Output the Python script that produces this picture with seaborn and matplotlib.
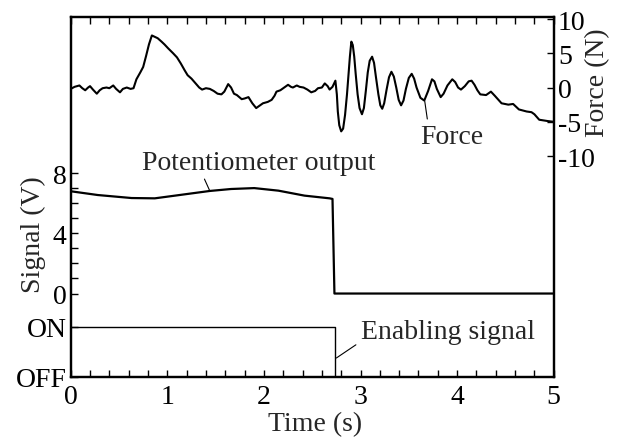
import matplotlib
matplotlib.use("Agg")
import matplotlib.pyplot as plt
import seaborn as sns
import pandas as pd
from matplotlib.ticker import MultipleLocator, FixedLocator

sns.set_theme(style="white")
plt.rcParams["font.family"] = ["Liberation Serif", "DejaVu Serif"]

# ---------------- data ----------------
force_time = [0.00, 0.04, 0.09, 0.12, 0.15, 0.18, 0.20, 0.23, 0.27, 0.30,
              0.33, 0.37, 0.40, 0.44, 0.47, 0.51, 0.54, 0.58, 0.62, 0.65,
              0.68, 0.72, 0.75, 0.78, 0.81, 0.84, 0.87, 0.90, 0.94, 0.97,
              1.01, 1.06, 1.10, 1.14, 1.18, 1.21, 1.25, 1.30, 1.33, 1.36,
              1.40, 1.44, 1.48, 1.52, 1.56, 1.59, 1.63, 1.66, 1.69, 1.72,
              1.77, 1.80, 1.84, 1.88, 1.92, 1.96, 1.99, 2.04, 2.08, 2.11,
              2.13, 2.17, 2.20, 2.25, 2.28, 2.30, 2.34, 2.37, 2.41, 2.45,
              2.49, 2.53, 2.56, 2.60, 2.63, 2.66, 2.68, 2.71, 2.74, 2.755,
              2.765, 2.78, 2.80, 2.82, 2.84, 2.86, 2.875, 2.89, 2.905, 2.92,
              2.935, 2.95, 2.97, 2.99, 3.015, 3.035, 3.055, 3.075, 3.095, 3.12,
              3.14, 3.16, 3.185, 3.205, 3.225, 3.245, 3.27, 3.295, 3.32, 3.345,
              3.37, 3.395, 3.42, 3.445, 3.47, 3.50, 3.53, 3.555, 3.58, 3.62,
              3.66, 3.70, 3.74, 3.765, 3.79, 3.83, 3.86, 3.90, 3.95, 3.98,
              4.01, 4.04, 4.08, 4.12, 4.15, 4.18, 4.21, 4.24, 4.30, 4.35,
              4.39, 4.46, 4.53, 4.58, 4.64, 4.72, 4.77, 4.80, 4.85, 4.94,
              5.00]
force_vals = [-0.2, 0.1, 0.3, -0.1, -0.4, 0.0, 0.2, -0.3, -0.9, -0.4,
              -0.1, 0.0, -0.1, 0.3, -0.2, -0.7, -0.2, 0.0, -0.2, -0.1,
              1.2, 2.2, 3.0, 4.6, 6.3, 7.6, 7.4, 7.2, 6.7, 6.3,
              5.7, 5.0, 4.4, 3.5, 2.5, 1.8, 1.3, 0.5, 0.0, -0.3,
              -0.1, -0.2, -0.5, -0.9, -1.0, -0.6, 0.5, 0.0, -0.9, -1.1,
              -1.7, -1.6, -1.4, -2.3, -3.0, -2.6, -2.3, -2.1, -1.8, -1.2,
              -0.6, -0.4, -0.1, 0.4, 0.1, 0.0, 0.3, 0.1, 0.0, -0.3,
              -0.7, -0.5, -0.1, 0.0, 0.6, 0.2, -0.3, 0.1, 1.0, -1.0,
              -3.5, -5.5, -6.4, -6.0, -4.0, -1.0, 1.8, 4.5, 6.7, 6.2,
              4.5, 2.0, -1.0, -3.0, -3.9, -3.0, -0.5, 2.2, 3.9, 4.5,
              3.6, 1.5, -1.0, -2.6, -3.1, -2.3, -0.3, 1.5, 2.3, 1.6,
              0.0, -1.8, -2.6, -1.9, -0.2, 1.4, 2.0, 1.3, 0.0, -1.5,
              -1.9, -0.5, 1.2, 0.9, -0.2, -1.4, -0.9, 0.3, 1.2, 0.8,
              0.0, -0.3, 0.2, 0.9, 1.0, 0.4, -0.4, -1.0, -1.1, -0.6,
              -1.2, -2.3, -2.5, -2.4, -3.2, -3.5, -3.6, -3.9, -4.7, -4.9,
              -5.0]

pot_time = [0.00, 0.28, 0.63, 0.87, 1.08, 1.44, 1.66, 1.90, 2.15, 2.42,
            2.68, 2.71, 2.73, 5.00]
pot_vals = [6.79, 6.54, 6.34, 6.32, 6.50, 6.81, 6.94, 7.00, 6.83, 6.50,
            6.32, 6.28, 0.0, 0.0]

enable_time = [0.00, 2.74, 2.74, 5.00]
enable_state = ["ON", "ON", "OFF", "OFF"]

signal_ticks = [0, 4, 8]
force_ticks = [-10, -5, 0, 5, 10]

# vertical placement of the logic levels on the signal axis
LEVEL = {"ON": -2.2, "OFF": -5.54}

FS = 20

fig = plt.figure(figsize=(6.27, 4.39), dpi=100)
ax = fig.add_axes([0.1128, 0.139, 0.7703, 0.819])

pot_df = pd.DataFrame({"t": pot_time, "v": pot_vals})
en_df = pd.DataFrame({"t": enable_time, "v": [LEVEL[s] for s in enable_state]})
force_df = pd.DataFrame({"t": force_time, "f": force_vals})

sns.lineplot(data=pot_df, x="t", y="v", ax=ax, color="black", lw=1.6,
             estimator=None, sort=False)
sns.lineplot(data=en_df, x="t", y="v", ax=ax, color="black", lw=1.0,
             estimator=None, sort=False)

ax.set_xlim(0, 5)
ax.set_ylim(LEVEL["OFF"], 18.33)
ax.xaxis.set_major_locator(MultipleLocator(1))
ax.xaxis.set_minor_locator(MultipleLocator(0.2))
ax.set_yticks([LEVEL["OFF"], LEVEL["ON"]] + signal_ticks)
ax.set_yticklabels(["OFF", "ON"] + [str(v) for v in signal_ticks])
ax.yaxis.set_minor_locator(FixedLocator([1, 2, 3, 5, 6, 7]))
ax.tick_params(axis="x", which="both", direction="in", top=True, bottom=True,
               length=5, width=1, color="black", labelsize=FS, pad=5,
               labelcolor="black")
ax.tick_params(axis="y", which="both", direction="in", left=True, right=False,
               length=5, width=1, color="black", labelsize=FS, pad=3,
               labelcolor="black")
ax.set_xlabel("")
ax.set_ylabel("")

ax2 = ax.twinx()
sns.lineplot(data=force_df, x="t", y="f", ax=ax2, color="black", lw=1.5,
             estimator=None, sort=False)
ax2.set_ylim(-42.25, 10.23)
ax2.set_yticks(force_ticks)
ax2.set_yticklabels([str(v) for v in force_ticks])
ax2.tick_params(axis="y", direction="in", right=True, left=False, length=5,
                width=1, color="black", labelsize=FS, pad=3, labelcolor="black")
ax2.set_xlabel("")
ax2.set_ylabel("")
ax2.set_xlim(0, 5)

for a in (ax, ax2):
    for s in a.spines.values():
        s.set_color("black")
        s.set_linewidth(1.6)

# axis titles
fig.text(315 / 627, 1 - 425 / 439, "Time (s)", ha="center", va="center",
         fontsize=FS)
fig.text(33.5 / 627, 1 - 235 / 439, "Signal (V)", ha="center", va="center",
         rotation=90, fontsize=FS)
fig.text(598 / 627, 1 - 83 / 439, "Force (N)", ha="center", va="center",
         rotation=90, fontsize=FS)

# annotations
ax.annotate("Potentiometer output", xy=(1.44, 6.81), xytext=(0.735, 8.73),
            ha="left", va="center", fontsize=FS,
            arrowprops=dict(arrowstyle="-", lw=0.8, color="black",
                            relpos=(0.26, 0.0), shrinkA=1, shrinkB=0))
ax.annotate("Enabling signal", xy=(2.75, -4.28), xytext=(3.01, -2.49),
            ha="left", va="center", fontsize=FS,
            arrowprops=dict(arrowstyle="-", lw=0.8, color="black",
                            relpos=(0.0, 0.1), shrinkA=2, shrinkB=0))
ax2.annotate("Force", xy=(3.665, -2.0), xytext=(3.62, -7.1),
             ha="left", va="center", fontsize=FS,
             arrowprops=dict(arrowstyle="-", lw=0.8, color="black",
                             relpos=(0.12, 1.0), shrinkA=1, shrinkB=0))

fig.savefig("out.png", dpi=100)
